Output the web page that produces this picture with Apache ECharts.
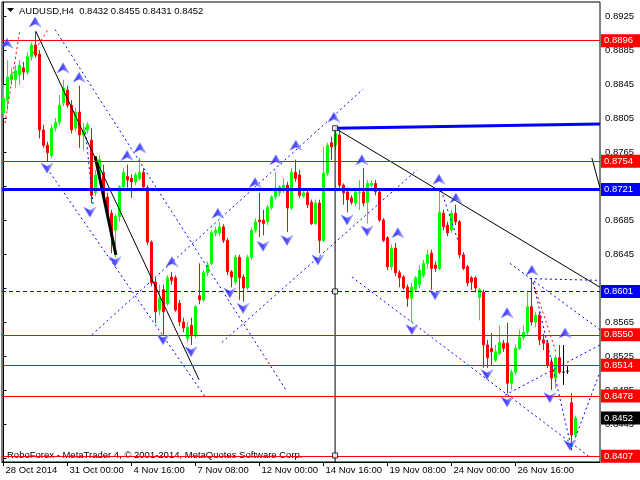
<!DOCTYPE html>
<html><head><meta charset="utf-8">
<script src="https://cdn.jsdelivr.net/npm/echarts@6/dist/echarts.min.js"></script>
<style>html,body{margin:0;padding:0;background:#fff}#c{width:640px;height:480px}</style>
</head><body><div id="c"></div>
<script>
// ---- candles (H4 bars, 28 Oct 08:00 ... 1 Dec 04:00) ----
const opens = [0.8811,0.8826,0.8850,0.8850,0.8856,0.8864,0.8859,0.8877,0.8891,0.8880,
0.8791,0.8773,0.8761,0.8793,0.8800,0.8823,0.8838,0.8820,0.8793,0.8812,
0.8785,0.8791,0.8779,0.8717,0.8736,0.8741,0.8712,0.8693,0.8673,0.8689,
0.8724,0.8736,0.8734,0.8730,0.8734,0.8741,0.8723,0.8659,0.8612,0.8579,
0.8603,0.8587,0.8618,0.8617,0.8587,0.8565,0.8546,0.8561,0.8550,0.8596,
0.8591,0.8623,0.8634,0.8670,0.8670,0.8677,0.8661,0.8624,0.8612,0.8641,
0.8618,0.8605,0.8641,0.8673,0.8685,0.8685,0.8683,0.8700,0.8712,0.8717,
0.8720,0.8726,0.8699,0.8741,0.8738,0.8713,0.8717,0.8706,0.8681,0.8705,
0.8661,0.8740,0.8776,0.8773,0.8785,0.8726,0.8718,0.8711,0.8705,0.8717,
0.8718,0.8706,0.8726,0.8728,0.8718,0.8685,0.8664,0.8630,0.8652,0.8623,
0.8618,0.8606,0.8593,0.8603,0.8609,0.8620,0.8634,0.8646,0.8632,0.8628,
0.8693,0.8679,0.8673,0.8693,0.8683,0.8644,0.8630,0.8617,0.8617,0.8594,
0.8600,0.8538,0.8534,0.8520,0.8528,0.8540,0.8540,0.8493,0.8506,0.8534,
0.8547,0.8553,0.8583,0.8565,0.8573,0.8544,0.8540,0.8518,0.8499,0.8523,
0.8506,0.8507,0.8470,0.8432];
const closes = [0.8828,0.8853,0.8856,0.8861,0.8867,0.8859,0.8877,0.8891,0.8879,0.8791,
0.8773,0.8764,0.8793,0.8800,0.8820,0.8840,0.8820,0.8791,0.8812,0.8785,
0.8791,0.8797,0.8714,0.8738,0.8756,0.8712,0.8693,0.8667,0.8689,0.8724,
0.8741,0.8732,0.8730,0.8738,0.8741,0.8724,0.8659,0.8611,0.8577,0.8593,
0.8577,0.8617,0.8614,0.8579,0.8565,0.8558,0.8559,0.8550,0.8583,0.8591,
0.8623,0.8632,0.8670,0.8673,0.8677,0.8661,0.8624,0.8618,0.8641,0.8617,
0.8605,0.8641,0.8673,0.8683,0.8683,0.8681,0.8700,0.8712,0.8720,0.8724,
0.8726,0.8699,0.8741,0.8734,0.8714,0.8717,0.8703,0.8681,0.8705,0.8661,
0.8740,0.8773,0.8771,0.8787,0.8726,0.8717,0.8709,0.8706,0.8718,0.8718,
0.8705,0.8728,0.8728,0.8718,0.8685,0.8661,0.8630,0.8652,0.8623,0.8617,
0.8605,0.8593,0.8606,0.8617,0.8626,0.8634,0.8644,0.8628,0.8628,0.8694,
0.8677,0.8670,0.8693,0.8683,0.8644,0.8628,0.8611,0.8612,0.8605,0.8603,
0.8538,0.8523,0.8530,0.8530,0.8541,0.8534,0.8493,0.8506,0.8534,0.8547,
0.8553,0.8583,0.8565,0.8573,0.8544,0.8540,0.8514,0.8499,0.8523,0.8506,
0.8506,0.8507,0.8432,0.8452];
const lows = [0.8805,0.8814,0.8844,0.8840,0.8844,0.8850,0.8856,0.8873,0.8876,0.8781,
0.8770,0.8753,0.8758,0.8789,0.8797,0.8819,0.8817,0.8787,0.8789,0.8770,
0.8767,0.8787,0.8705,0.8713,0.8732,0.8709,0.8690,0.8646,0.8641,0.8683,
0.8720,0.8723,0.8711,0.8726,0.8732,0.8720,0.8656,0.8607,0.8564,0.8573,
0.8550,0.8584,0.8609,0.8577,0.8560,0.8553,0.8541,0.8538,0.8546,0.8586,
0.8589,0.8619,0.8632,0.8666,0.8666,0.8658,0.8620,0.8606,0.8609,0.8591,
0.8589,0.8603,0.8638,0.8670,0.8665,0.8667,0.8679,0.8697,0.8709,0.8713,
0.8717,0.8671,0.8697,0.8730,0.8711,0.8711,0.8699,0.8679,0.8679,0.8646,
0.8659,0.8737,0.8756,0.8767,0.8723,0.8703,0.8694,0.8703,0.8701,0.8697,
0.8701,0.8681,0.8723,0.8714,0.8683,0.8659,0.8626,0.8626,0.8619,0.8606,
0.8603,0.8583,0.8565,0.8600,0.8605,0.8617,0.8628,0.8603,0.8624,0.8626,
0.8673,0.8666,0.8670,0.8679,0.8640,0.8626,0.8607,0.8603,0.8600,0.8567,
0.8511,0.8511,0.8514,0.8518,0.8526,0.8530,0.8481,0.8485,0.8503,0.8532,
0.8544,0.8550,0.8561,0.8559,0.8538,0.8532,0.8511,0.8485,0.8487,0.8504,
0.8491,0.8504,0.8414,0.8431];
const highs = [0.8844,0.8873,0.8864,0.8867,0.8873,0.8871,0.8883,0.8894,0.8907,0.8885,
0.8797,0.8777,0.8797,0.8805,0.8832,0.8850,0.8843,0.8826,0.8817,0.8843,
0.8799,0.8800,0.8793,0.8744,0.8761,0.8750,0.8717,0.8697,0.8692,0.8726,
0.8746,0.8750,0.8739,0.8741,0.8758,0.8746,0.8726,0.8661,0.8617,0.8609,
0.8609,0.8620,0.8624,0.8620,0.8591,0.8570,0.8565,0.8570,0.8585,0.8634,
0.8626,0.8636,0.8673,0.8677,0.8683,0.8680,0.8664,0.8626,0.8644,0.8644,
0.8621,0.8644,0.8676,0.8687,0.8717,0.8697,0.8703,0.8714,0.8741,0.8726,
0.8734,0.8730,0.8746,0.8756,0.8744,0.8723,0.8720,0.8709,0.8709,0.8709,
0.8771,0.8776,0.8783,0.8793,0.8791,0.8728,0.8723,0.8714,0.8723,0.8732,
0.8746,0.8732,0.8732,0.8732,0.8720,0.8687,0.8666,0.8656,0.8658,0.8626,
0.8620,0.8609,0.8611,0.8619,0.8632,0.8638,0.8650,0.8650,0.8636,0.8723,
0.8697,0.8683,0.8697,0.8703,0.8685,0.8647,0.8632,0.8619,0.8619,0.8605,
0.8603,0.8544,0.8552,0.8538,0.8561,0.8544,0.8564,0.8509,0.8538,0.8556,
0.8561,0.8600,0.8617,0.8577,0.8577,0.8551,0.8544,0.8523,0.8526,0.8538,
0.8538,0.8513,0.8481,0.8455];

// ---- axes ----
const tickBars = [0,16,32,48,64,80,96,112,128];
const tickLabels = ['28 Oct 2014','31 Oct 00:00','4 Nov 16:00','7 Nov 08:00','12 Nov 00:00','14 Nov 16:00','19 Nov 08:00','24 Nov 00:00','26 Nov 16:00'];
const priceTicks = [0.8405,0.8445,0.8485,0.8525,0.8565,0.8605,0.8645,0.8685,0.8725,0.8765,0.8805,0.8845,0.8885,0.8925];

// ---- horizontal levels ----
const redLevels = [0.8896,0.8754,0.8550,0.8514,0.8478,0.8407];
const blueLevel = 0.8721;
const dashedLevel = 0.8601;
const lastPrice = 0.8452;

// ---- drawn objects: [bar, price] ----
const blackLines = [
  [[8.1,0.8907],[48.9,0.8497]],
  [[82.9,0.8793],[149.1,0.8606]],
  [[147.1,0.8758],[149.1,0.8723]]
];
const blackThick = [[22.9,0.8760],[28.1,0.8644]];
const blackVertical = [[82.9,0.8793],[82.9,0.8400]];
const anchorBoxes = [[82.9,0.8793],[82.9,0.8601],[82.9,0.8408]];
const blueThick = [[82.9,0.8793],[149.1,0.8798]];
const blueDashed = [
  [[12.9,0.8909],[70.9,0.8483]],
  [[11.6,0.8741],[50.4,0.8477]],
  [[22.1,0.8550],[89.9,0.8839]],
  [[54.6,0.8541],[103.4,0.8744]],
  [[20.4,0.8794],[22.4,0.8703]],
  [[87.1,0.8618],[146.6,0.8406]],
  [[125.4,0.8479],[149.1,0.8538]],
  [[126.6,0.8634],[149.1,0.8556]],
  [[131.6,0.8616],[149.1,0.8614]],
  [[142.1,0.8418],[149.1,0.8506]],
  [[132.4,0.8612],[142.1,0.8414]],
  [[109.4,0.8720],[113.6,0.8661]]
];
const redDotted = [
  [[0.4,0.8799],[4.1,0.8909]],
  [[7.4,0.8881],[11.1,0.8909]],
  [[132.4,0.8611],[138.1,0.8530]]
];
const upFractals = [[7.9,0.8918],[0.9,0.8893],[14.9,0.8864],[18.9,0.8853],[30.9,0.8761],[34.1,0.8770],[42.1,0.8636],[53.6,0.8693],[62.9,0.8729],[68.1,0.8756],[73.1,0.8773],[82.6,0.8806],[89.6,0.8756],[98.6,0.8670],[108.9,0.8733],[113.1,0.8711],[125.9,0.8576],[132.1,0.8626],[140.4,0.8552]];
const downFractals = [[10.9,0.8746],[21.6,0.8694],[27.9,0.8636],[39.9,0.8544],[46.9,0.8530],[56.6,0.8599],[59.9,0.8581],[64.9,0.8654],[70.9,0.8661],[78.6,0.8638],[85.9,0.8685],[90.9,0.8672],[102.1,0.8556],[107.9,0.8597],[120.9,0.8503],[125.9,0.8471],[136.6,0.8476],[141.6,0.8420]];

const FONT = '"Liberation Sans", Arial, sans-serif';
const candleData = opens.map((o, i) => [i, o, closes[i], lows[i], highs[i]]);

function seg(data, color, width, type, z) {
  return {type:'line', data:data, symbol:'none', showSymbol:false, silent:true,
    lineStyle:{color:color, width:width, type:type}, z:z, animation:false};
}
function levelLabel(bg) {
  return {show:true, position:'end', distance:1, formatter:p => Number(p.value).toFixed(4),
    color:'#fff', backgroundColor:bg, fontSize:9.5, fontFamily:FONT, padding:[2,8,1,3]};
}
const arrowFill = {type:'linear', x:0, y:0, x2:1, y2:0,
  colorStops:[{offset:0, color:'#0000ee'},{offset:0.55,color:'#2a2aff'},{offset:1, color:'#c8c8ff'}]};

const series = [];
series.push({type:'candlestick', data:candleData, encode:{x:0, y:[1,2,3,4]}, barWidth:2, z:2,
  itemStyle:{color:'#00ff00', color0:'#ff0000', borderColor:'#00ff00', borderColor0:'#ff0000', borderColorDoji:'#000000', borderWidth:1},
  silent:true, animation:false});
const levelData = [];
redLevels.forEach(v => levelData.push({yAxis:v, lineStyle:{color:'#ff0000', width:1, type:'solid'}, label:levelLabel('#ff0000')}));
levelData.push({yAxis:blueLevel, lineStyle:{color:'#0000ff', width:3, type:'solid'}, label:levelLabel('#0000ff')});
levelData.push({yAxis:dashedLevel, lineStyle:{color:'#0000ff', width:1, type:[4,3]}, label:levelLabel('#0000ff')});
levelData.push({yAxis:lastPrice, lineStyle:{color:'rgba(0,0,0,0)', width:0}, label:levelLabel('#000000')});
series.push({type:'line', data:[], z:5, silent:true, animation:false,
  markLine:{silent:true, precision:4, symbol:['none','none'], animation:false, data:levelData}});
blueDashed.forEach(s => series.push(seg(s, '#0000ff', 1, [2,3], 4)));
redDotted.forEach(s => series.push(seg(s, '#ff0000', 1, [2,3], 4)));
blackLines.forEach(s => series.push(seg(s, '#000000', 1, 'solid', 4)));
series.push(seg(blackThick, '#000000', 3, 'solid', 4));
series.push(seg(blackVertical, '#000000', 1, 'solid', 4));
series.push(seg(blueThick, '#0000ff', 3, 'solid', 4));
series.push({type:'scatter', data:anchorBoxes, symbol:'rect', symbolSize:5, z:6, silent:true, animation:false,
  itemStyle:{color:'#ffffff', borderColor:'#000000', borderWidth:1}});
series.push({type:'scatter', data:upFractals, symbol:'path://M5,0 L10,10 L5,7 L0,10 Z', symbolSize:[12,10], z:6, silent:true, animation:false,
  itemStyle:{color:arrowFill, borderColor:'#9090ff', borderWidth:0.7}});
series.push({type:'scatter', data:downFractals, symbol:'path://M0,0 L5,3 L10,0 L5,10 Z', symbolSize:[12,10], z:6, silent:true, animation:false,
  itemStyle:{color:arrowFill, borderColor:'#9090ff', borderWidth:0.7}});

const chart = echarts.init(document.getElementById('c'));
chart.setOption({
  animation:false,
  backgroundColor:'#ffffff',
  grid:{left:2, right:40, top:2, bottom:18, show:true, borderColor:'#000', borderWidth:1, backgroundColor:'transparent'},
  xAxis:{type:'value', min:-0.375, max:149.125,
    axisLine:{show:true, lineStyle:{color:'#000'}},
    axisTick:{show:true, length:4, customValues:tickBars, lineStyle:{color:'#000'}},
    axisLabel:{show:true, customValues:tickBars, formatter:v => tickLabels[tickBars.indexOf(v)] || '',
      align:'left', margin:3, color:'#000', fontSize:9.5, fontFamily:FONT, padding:[0,0,0,2]},
    splitLine:{show:false}},
  yAxis:{type:'value', position:'right', min:0.84003, max:0.89415,
    axisLine:{show:true, lineStyle:{color:'#000'}},
    axisTick:{show:true, length:3, customValues:priceTicks, lineStyle:{color:'#000'}},
    axisLabel:{show:true, customValues:priceTicks, formatter:v => v.toFixed(4), margin:5, color:'#000', fontSize:9.5, fontFamily:FONT},
    splitLine:{show:false}},
  graphic:[
    {type:'polygon', z:10, shape:{points:[[7,8],[14,8],[10.5,12]]}, style:{fill:'#000'}},
    {type:'text', z:10, x:19, y:11, style:{text:'AUDUSD,H4  0.8432 0.8455 0.8431 0.8452', fill:'#000', font:'9.5px ' + FONT, verticalAlign:'middle'}},
    {type:'text', z:0, x:7, y:455, style:{text:'RoboForex - MetaTrader 4, \u00a9 2001-2014, MetaQuotes Software Corp.', fill:'#000', font:'9.5px ' + FONT, verticalAlign:'middle'}}
  ],
  series:series
});
</script>
</body></html>
